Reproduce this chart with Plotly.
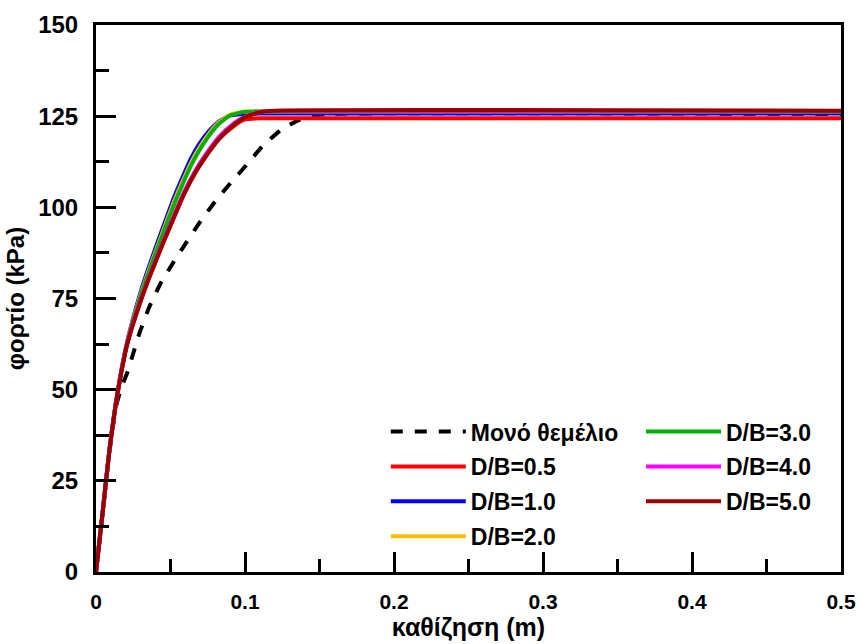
import plotly.graph_objects as go

# settlement (m) and load (kPa)
x_single = [0, 0.0045, 0.0089, 0.0135, 0.017, 0.0211, 0.0245, 0.029, 0.0357, 0.0434, 0.0524, 0.061,
            0.0702, 0.08, 0.0902, 0.1014, 0.1114, 0.1237, 0.136, 0.145, 0.155, 0.5]
y_single = [0, 16.3, 32.5, 45.5, 50.5, 54.8, 59.3, 65.3, 72.6, 79.2, 85.2, 90.6,
            96.2, 101.6, 106.6, 111.8, 116.6, 121.1, 123.9, 125.1, 125.6, 125.6]

x_a = [0, 0.0045, 0.0089, 0.0145, 0.0211, 0.0301, 0.0345, 0.0412, 0.047, 0.0524, 0.058, 0.0635,
       0.069, 0.0747, 0.082, 0.09, 0.1, 0.11, 0.5]
x_b = [0, 0.0045, 0.0089, 0.0145, 0.0211, 0.0301, 0.0368, 0.045, 0.052, 0.059, 0.067, 0.0747,
       0.083, 0.0925, 0.1, 0.11, 0.12, 0.5]

y_db05 = [0, 16.5, 33, 49, 62.7, 74.4, 81.8, 90.1, 96.9, 103.5, 109.7, 114.5, 118.9, 122.3, 124.1, 124.4, 124.4, 124.4]
y_db10 = [0, 16.5, 33.2, 49.5, 63.5, 77, 82.5, 90.3, 96.8, 102.8, 108.2, 113.2, 117.2, 120.4, 123.4, 125.2, 125.6, 125.7, 125.7]
y_db20 = [0, 16.5, 33.1, 49.3, 63.2, 76.3, 81.7, 89.3, 95.7, 101.6, 107, 112, 116.1, 119.6, 123.1, 125.4, 126.2, 126.3, 126.3]
y_db30 = [0, 16.5, 33, 49.2, 63, 75.9, 81.2, 88.7, 95, 100.8, 106.2, 111.2, 115.4, 119, 122.7, 125.2, 126.2, 126.3, 126.3]
y_db40 = [0, 16.5, 33, 49.1, 62.9, 74.8, 82.3, 90.6, 97.5, 104.1, 110.3, 115.1, 119.5, 123, 124.9, 126.1, 126.4, 126.4]
y_db50 = [0, 16.5, 33, 49, 62.7, 74.5, 81.9, 90.2, 97, 103.6, 109.8, 114.6, 119, 122.6, 124.7, 126.1, 126.5, 126.5]

x_tickvals = [0, 0.1, 0.2, 0.3, 0.4, 0.5]
x_ticktext = ["0", "0.1", "0.2", "0.3", "0.4", "0.5"]
y_tickvals = [0, 25, 50, 75, 100, 125, 150]

names = ["Μονό θεμέλιο", "D/B=0.5", "D/B=1.0", "D/B=2.0", "D/B=3.0", "D/B=4.0", "D/B=5.0"]
colors = ["#000000", "#ff0000", "#0000ff", "#ffc000", "#00b000", "#ff00ff", "#990000"]

FONT = "Liberation Sans, Arial, sans-serif"
fig = go.Figure()

series = [
    (x_single, y_single, "dash", "legend"),
    (x_b, y_db05, "solid", "legend"),
    (x_a, y_db10, "solid", "legend"),
    (x_a, y_db20, "solid", "legend"),
    (x_a, y_db30, "solid", "legend2"),
    (x_b, y_db40, "solid", "legend2"),
    (x_b, y_db50, "solid", "legend2"),
]
for i, (xs, ys, dash, lg) in enumerate(series):
    fig.add_trace(go.Scatter(
        x=xs, y=ys, mode="lines", name=names[i],
        line=dict(color=colors[i], width=4, dash=dash, shape="spline", smoothing=0.5),
        legend=lg, legendgroup=names[i],
    ))

axis_common = dict(
    showline=True, linecolor="black", linewidth=3, mirror=True,
    ticks="inside", ticklen=20, tickwidth=3, tickcolor="black",
    showgrid=False, zeroline=False, automargin=False,
)
fig.update_xaxes(range=[0, 0.5], tickvals=x_tickvals, ticktext=x_ticktext,
                 tickfont=dict(family=FONT, size=21, color="black", weight="bold"),
                 minor=dict(ticks="inside", ticklen=13, tickwidth=3, tickcolor="black", dtick=0.05, tick0=0),
                 title=dict(text="καθίζηση (m)", font=dict(family=FONT, size=25, color="black", weight="bold"), standoff=6),
                 ticklabelstandoff=9, **axis_common)
fig.update_yaxes(range=[0, 150], tickvals=y_tickvals,
                 tickfont=dict(family=FONT, size=24, color="black", weight="bold"),
                 minor=dict(ticks="inside", ticklen=13, tickwidth=3, tickcolor="black", dtick=12.5, tick0=0),
                 title=dict(text="φορτίο (kPa)", font=dict(family=FONT, size=24, color="black", weight="bold"), standoff=7),
                 ticklabelstandoff=10, **axis_common)

leg_common = dict(
    font=dict(family=FONT, size=23, color="black", weight="bold"),
    bgcolor="rgba(0,0,0,0)", borderwidth=0, itemwidth=75,
    traceorder="grouped", tracegroupgap=2,
    xanchor="left", yanchor="top",
)
fig.update_layout(
    width=860, height=644,
    margin=dict(l=96, r=19, t=25, b=72),
    paper_bgcolor="white", plot_bgcolor="white",
    legend=dict(x=0.389, y=0.296, **leg_common),
    legend2=dict(x=0.7315, y=0.296, **leg_common),
)

fig.write_html("out.html")
